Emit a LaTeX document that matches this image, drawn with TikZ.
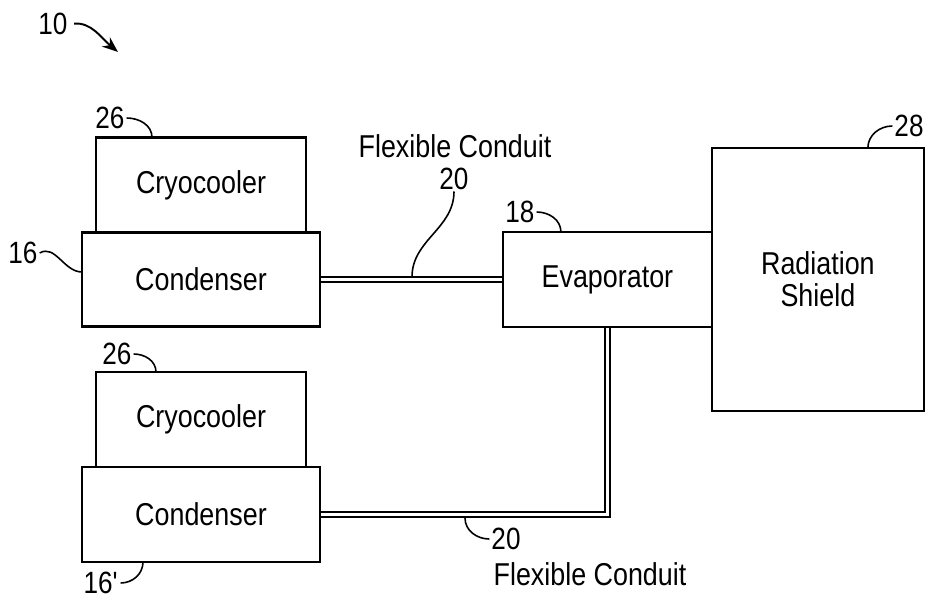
\documentclass[tikz,border=0pt]{standalone}
\usepackage{fontspec}
\setmainfont{Liberation Sans}[FakeStretch=0.85]
\usetikzlibrary{positioning,arrows.meta}

\begin{document}
\begin{tikzpicture}[
    x=0.02cm, y=-0.02cm,
    box/.style={rectangle, draw, line width=1.3pt, outer sep=0pt, inner sep=0pt, align=center, font=\fontsize{18}{18}\selectfont},
    txt/.style={inner sep=1pt, font=\fontsize{18}{18}\selectfont},
    num/.style={inner sep=1pt, font=\fontsize{17.5}{18}\selectfont},
    lead/.style={line width=0.9pt},
    conduit/.style={line width=1pt, double, double distance=1.6pt, shorten <=0.65pt, shorten >=0.65pt}
]
\useasboundingbox (0,0) rectangle (927,599);

% cooler stacks
\node[box, minimum width=4.76cm, minimum height=1.88cm] (condA) at (201,279.5) {Condenser};
\node[box, minimum width=4.2cm, minimum height=1.9cm, above=0pt of condA] (cryoA) {Cryocooler};
\node[box, minimum width=4.76cm, minimum height=1.9cm] (condB) at (201,514.5) {Condenser};
\node[box, minimum width=4.2cm, minimum height=1.9cm, above=0pt of condB] (cryoB) {Cryocooler};

% evaporator and shield
\node[box, minimum width=4.18cm, minimum height=1.9cm, right=3.66cm of condA] (evap) {Evaporator};
\node[box, minimum width=4.24cm, minimum height=5.26cm, right=0pt of evap] (shield) {Radiation\\Shield};

% conduits
\draw[conduit] (condA.east) -- (evap.west);
\draw[conduit] (condB.east) -| (evap.south);

% reference numerals
\node[num] (n10) at (53,24) {10};
\coordinate (p10) at (118,52);
\draw[line width=1.1pt, shorten <=2.5pt, -{Stealth[length=9pt, width=7pt]}] (n10.east) to[out=5, in=140] (p10);

\node[num] (n26a) at (110,118) {26};
\coordinate (t26a) at ([xshift=1.12cm]cryoA.north west);
\draw[lead] (n26a.east) to[out=0, in=90] (t26a);

\node[num] (n16a) at (23,253) {16};
\coordinate (t16a) at ([yshift=0.15cm]condA.west);
\draw[lead] (n16a.east) to[out=30, in=180] (t16a);

\node[txt] (flexA) at (455,146) {Flexible Conduit};
\node[num] (n20a) at (454,178.5) {20};
\coordinate (t20a) at (412,277);
\draw[lead] (n20a.south) to[out=-90, in=90] (t20a);

\node[num] (n18) at (520,212) {18};
\coordinate (t18) at ([xshift=1.16cm]evap.north west);
\draw[lead] (n18.east) to[out=0, in=90] (t18);

\node[num] (n28) at (909,126) {28};
\coordinate (t28) at ([xshift=-1.12cm]shield.north east);
\draw[lead] (n28.west) to[out=180, in=90] (t28);

\node[num] (n26b) at (117,354) {26};
\coordinate (t26b) at ([xshift=1.2cm]cryoB.north west);
\draw[lead] (n26b.east) to[out=0, in=90] (t26b);

\node[num] (n16b) at (101,583) {16\textquotesingle};
\coordinate (t16b) at ([xshift=1.22cm]condB.south west);
\draw[lead] (n16b.east) to[out=0, in=-90] (t16b);

\node[num] (n20b) at (506,539) {20};
\coordinate (t20b) at (465,518);
\draw[lead] (n20b.west) to[out=180, in=-90] (t20b);
\node[txt] (flexB) at (590,574) {Flexible Conduit};
\end{tikzpicture}
\end{document}
